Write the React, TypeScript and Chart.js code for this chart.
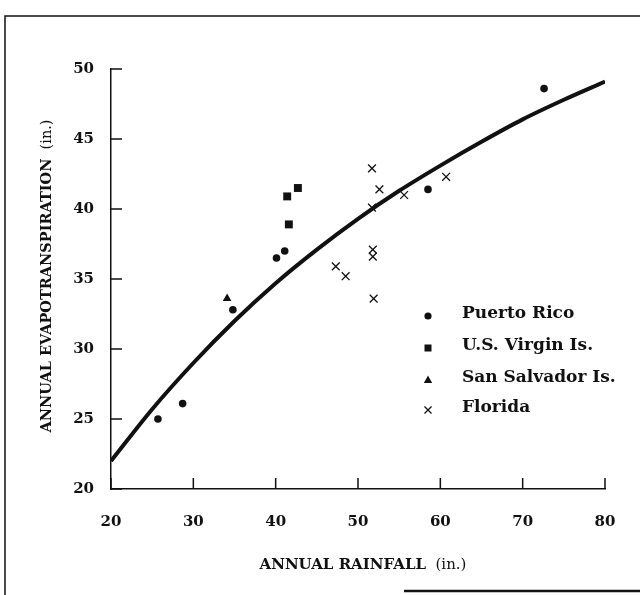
import React, { useEffect, useRef } from "react";
import { Chart, registerables } from "chart.js";

Chart.register(...registerables);

// Fitted curve
const curveRainfall = [20, 25, 30, 35, 40, 45, 50, 55, 60, 65, 70, 75, 80];
const curveET = [22.0, 25.7, 29.0, 32.0, 34.7, 37.1, 39.3, 41.3, 43.1, 44.8, 46.4, 47.8, 49.1];

// Observations: [rainfall, evapotranspiration]
const puertoRico = [
  [25.7, 25.0], [28.7, 26.1], [34.8, 32.8], [40.1, 36.5], [41.1, 37.0], [58.5, 41.4], [72.6, 48.6],
];
const virginIslands = [[41.4, 40.9], [42.7, 41.5], [41.6, 38.9]];
const sanSalvador = [[34.1, 33.6]];
const florida = [
  [51.7, 42.9], [52.6, 41.4], [51.7, 40.1], [55.6, 41.0], [60.7, 42.3],
  [51.8, 37.1], [51.8, 36.6], [47.3, 35.9], [48.5, 35.2], [51.9, 33.6],
];

const legendLabels = ["Puerto Rico", "U.S. Virgin Is.", "San Salvador Is.", "Florida"];
const xTicks = [20, 30, 40, 50, 60, 70, 80];
const yTicks = [20, 25, 30, 35, 40, 45, 50];

const INK = "#111";
const SERIF = "'DejaVu Serif', serif";

const toPts = (arr: number[][]) => arr.map(([x, y]) => ({ x, y }));

function drawMarker(ctx: CanvasRenderingContext2D, kind: string, x: number, y: number) {
  ctx.save();
  ctx.fillStyle = INK;
  ctx.strokeStyle = INK;
  ctx.beginPath();
  if (kind === "circle") {
    ctx.arc(x, y, 3.6, 0, Math.PI * 2);
    ctx.fill();
  } else if (kind === "rect") {
    ctx.rect(x - 3.5, y - 3.5, 7, 7);
    ctx.fill();
  } else if (kind === "triangle") {
    ctx.moveTo(x, y - 4.5);
    ctx.lineTo(x + 4.2, y + 3);
    ctx.lineTo(x - 4.2, y + 3);
    ctx.closePath();
    ctx.fill();
  } else {
    ctx.lineWidth = 1.3;
    ctx.moveTo(x - 3.5, y - 3.5);
    ctx.lineTo(x + 3.5, y + 3.5);
    ctx.moveTo(x + 3.5, y - 3.5);
    ctx.lineTo(x - 3.5, y + 3.5);
    ctx.stroke();
  }
  ctx.restore();
}

function drawMixedTitle(ctx: CanvasRenderingContext2D, main: string, unit: string, size: number) {
  const boldF = `bold ${size}px ${SERIF}`;
  const normF = `${size}px ${SERIF}`;
  ctx.font = boldF;
  const wa = ctx.measureText(main).width;
  ctx.font = normF;
  const wb = ctx.measureText(unit).width;
  const start = -(wa + wb) / 2;
  ctx.textAlign = "left";
  ctx.textBaseline = "middle";
  ctx.font = boldF;
  ctx.fillText(main, start, 0);
  ctx.font = normF;
  ctx.fillText(unit, start + wa, 0);
}

const decorPlugin = {
  id: "decor",
  afterDraw(chart: any) {
    const ctx: CanvasRenderingContext2D = chart.ctx;
    const xs = chart.scales.x;
    const ys = chart.scales.y;
    const area = chart.chartArea;
    ctx.save();
    ctx.strokeStyle = INK;
    ctx.lineWidth = 1.5;
    // inward ticks
    ctx.beginPath();
    yTicks.forEach((v) => {
      const py = ys.getPixelForValue(v);
      ctx.moveTo(area.left, py);
      ctx.lineTo(area.left + 11, py);
    });
    xTicks.forEach((v) => {
      const px = xs.getPixelForValue(v);
      ctx.moveTo(px, area.bottom);
      ctx.lineTo(px, area.bottom - 11);
    });
    ctx.stroke();

    // axis titles
    ctx.fillStyle = INK;
    ctx.save();
    ctx.translate((area.left + area.right) / 2 + 5, 565);
    drawMixedTitle(ctx, "ANNUAL RAINFALL", "  (in.)", 15);
    ctx.restore();

    ctx.save();
    ctx.translate(47, 276);
    ctx.rotate(-Math.PI / 2);
    drawMixedTitle(ctx, "ANNUAL EVAPOTRANSPIRATION", "  (in.)", 14.5);
    ctx.restore();

    // legend
    const kinds = ["circle", "rect", "triangle", "crossRot"];
    const rowsY = [314, 346, 378, 408];
    ctx.font = `bold 17px ${SERIF}`;
    ctx.textAlign = "left";
    ctx.textBaseline = "middle";
    legendLabels.forEach((lab, i) => {
      drawMarker(ctx, kinds[i], 428, rowsY[i] + 2);
      ctx.fillText(lab, 462, rowsY[i]);
    });

    // page frame
    ctx.lineWidth = 1.5;
    ctx.beginPath();
    ctx.moveTo(5, 595);
    ctx.lineTo(5, 16);
    ctx.lineTo(640, 16);
    ctx.stroke();
    ctx.lineWidth = 2.5;
    ctx.beginPath();
    ctx.moveTo(404, 591);
    ctx.lineTo(640, 591);
    ctx.stroke();
    ctx.restore();
  },
};

export default function App() {
  const ref = useRef<HTMLCanvasElement | null>(null);
  useEffect(() => {
    document.body.style.margin = "0";
    document.body.style.background = "#fff";
    const canvas = ref.current;
    if (!canvas) return;
    const chart = new Chart(canvas, {
      type: "scatter",
      data: {
        datasets: [
          {
            type: "line",
            label: "Curve",
            data: curveRainfall.map((x, i) => ({ x, y: curveET[i] })),
            borderColor: INK,
            borderWidth: 4,
            pointRadius: 0,
            cubicInterpolationMode: "monotone",
            fill: false,
          } as any,
          {
            label: legendLabels[0],
            data: toPts(puertoRico),
            pointStyle: "circle",
            pointRadius: 3.8,
            backgroundColor: INK,
            borderColor: INK,
            borderWidth: 0,
          },
          {
            label: legendLabels[1],
            data: toPts(virginIslands),
            pointStyle: "rect",
            pointRadius: 5.6,
            backgroundColor: INK,
            borderColor: INK,
            borderWidth: 0,
          },
          {
            label: legendLabels[2],
            data: toPts(sanSalvador),
            pointStyle: "triangle",
            pointRadius: 5,
            backgroundColor: INK,
            borderColor: INK,
            borderWidth: 0,
          },
          {
            label: legendLabels[3],
            data: toPts(florida),
            pointStyle: "crossRot",
            pointRadius: 5.5,
            backgroundColor: INK,
            borderColor: INK,
            borderWidth: 1.3,
          },
        ],
      },
      options: {
        animation: false,
        responsive: false,
        maintainAspectRatio: false,
        layout: { padding: { left: 0, top: 69, right: 35, bottom: 0 } },
        plugins: {
          legend: { display: false },
          tooltip: { enabled: false },
        },
        scales: {
          x: {
            type: "linear",
            min: 20,
            max: 80,
            afterFit: (s: any) => { s.height = 106; },
            afterBuildTicks: (s: any) => { s.ticks = xTicks.map((v) => ({ value: v })); },
            grid: { display: false, drawTicks: false },
            border: { display: true, color: INK, width: 1.5 },
            ticks: {
              color: INK,
              padding: 24,
              font: { family: SERIF, size: 15, weight: "bold" },
            },
          },
          y: {
            type: "linear",
            min: 20,
            max: 50,
            afterFit: (s: any) => { s.width = 111; },
            afterBuildTicks: (s: any) => { s.ticks = yTicks.map((v) => ({ value: v })); },
            grid: { display: false, drawTicks: false },
            border: { display: true, color: INK, width: 1.5 },
            ticks: {
              color: INK,
              padding: 17,
              font: { family: SERIF, size: 15, weight: "bold" },
            },
          },
        },
      },
      plugins: [decorPlugin],
    } as any);
    return () => chart.destroy();
  }, []);
  return (
    <div style={{ width: 640, height: 595, background: "#fff" }}>
      <canvas ref={ref} width={640} height={595} style={{ display: "block" }} />
    </div>
  );
}
